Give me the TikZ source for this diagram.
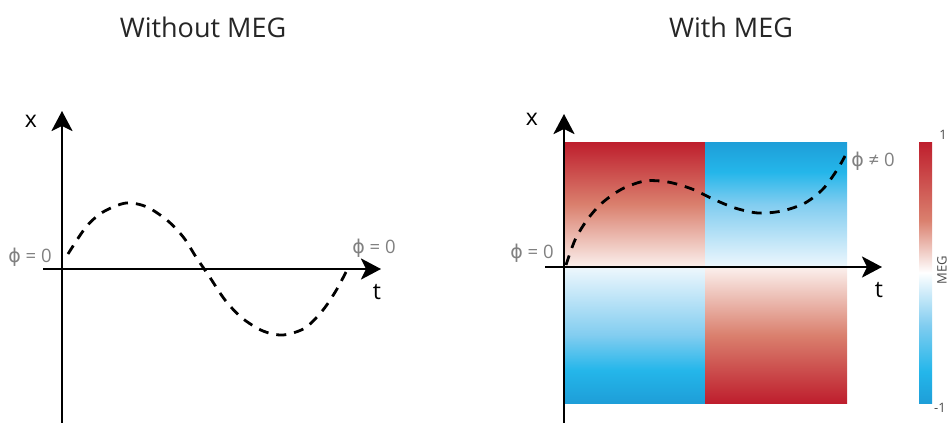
\documentclass[tikz,border=0pt]{standalone}
\usepackage{fontspec}
\setmainfont{Open Sans}
\newfontfamily\phifont{DejaVu Sans}
\usetikzlibrary{arrows.meta,positioning}
\definecolor{megred}{RGB}{190,30,45}
\definecolor{redmid}{RGB}{218,128,110}
\definecolor{redlow}{RGB}{251,240,237}
\definecolor{megblue}{RGB}{30,158,216}
\definecolor{megcyan}{RGB}{36,182,234}
\definecolor{bluemid}{RGB}{130,205,240}
\definecolor{bluelow}{RGB}{238,247,253}
\definecolor{phigray}{RGB}{128,128,128}
\newcommand{\phisym}{{\phifont\fontsize{19}{20}\selectfont ϕ}}
% vertical shadings: 25bp..75bp is the filled path, bottom to top
\pgfdeclareverticalshading{redup}{100bp}{color(0bp)=(redlow); color(25bp)=(redlow); color(50bp)=(redmid); color(75bp)=(megred); color(100bp)=(megred)}
\pgfdeclareverticalshading{reddown}{100bp}{color(0bp)=(megred); color(25bp)=(megred); color(50bp)=(redmid); color(75bp)=(redlow); color(100bp)=(redlow)}
\pgfdeclareverticalshading{blueup}{100bp}{color(0bp)=(bluelow); color(25bp)=(bluelow); color(50bp)=(bluemid); color(63bp)=(megcyan); color(75bp)=(megblue); color(100bp)=(megblue)}
\pgfdeclareverticalshading{bluedown}{100bp}{color(0bp)=(megblue); color(25bp)=(megblue); color(37bp)=(megcyan); color(50bp)=(bluemid); color(75bp)=(bluelow); color(100bp)=(bluelow)}
\pgfdeclareverticalshading{megbar}{100bp}{color(0bp)=(megblue); color(25bp)=(megblue); color(31bp)=(megcyan); color(40bp)=(bluemid); color(50bp)=(white); color(60bp)=(redmid); color(75bp)=(megred); color(100bp)=(megred)}
\tikzset{
  title/.style={font=\fontsize{27}{30}\selectfont,text=black!85,inner sep=0pt},
  axlbl/.style={font=\fontsize{23}{25}\selectfont,inner sep=0pt},
  philbl/.style={font=\fontsize{18.5}{20}\selectfont,text=phigray,inner sep=0pt},
  barlbl/.style={font=\fontsize{13}{15}\selectfont,text=black!70,inner sep=0pt},
  axis/.style={line width=2.8pt,-{Stealth[length=20pt,width=21pt,inset=5pt]}},
  wave/.style={line width=2.8pt,dash pattern=on 10pt off 8pt},
  block/.style={draw=none}
}
\begin{document}
\begin{tikzpicture}[x=1pt,y=-1pt]
  \useasboundingbox (0,0) rectangle (948,423);

  % left panel
  \node[title] (titleL) at (203,27) {Without MEG};
  \coordinate (xLs) at (43,269);
  \coordinate (xLe) at (381,269);
  \coordinate (yLs) at (62,423);
  \coordinate (yLe) at (62,111);
  \draw[wave] plot[smooth] coordinates {(68,254) (86,227) (103,212) (126,203) (147,207) (168,221)
    (184,238) (196,257) (209,276) (225,300) (242,318) (263,331) (283,335) (305,328) (323,310)
    (337,289) (348,268)};
  \draw[axis] (xLs) -- (xLe);
  \draw[axis] (yLs) -- (yLe);
  \node[axlbl] (xlabL) at (31,121) {x};
  \node[axlbl] (tlabL) at (377,292) {t};
  \node[philbl] (phiL)  at (30,257) {\phisym{} = 0};
  \node[philbl] (phiLe) at (374,248) {\phisym{} = 0};

  % right panel
  \node[title] (titleR) at (731,27) {With MEG};
  \path[block,shading=redup]    (564,142) rectangle (705,267);
  \path[block,shading=blueup]   (705,142) rectangle (847,267);
  \path[block,shading=bluedown] (564,267) rectangle (705,403);
  \path[block,shading=reddown]  (705,267) rectangle (847,403);
  \coordinate (xRs) at (545,267);
  \coordinate (xRe) at (882,267);
  \coordinate (yRs) at (564,423);
  \coordinate (yRe) at (564,114);
  \draw[wave] plot[smooth] coordinates {(566,265) (575,240) (587,220) (602,203) (622,189) (645,181)
    (668,182) (692,189) (713,199) (735,208) (758,213) (782,211) (805,203) (823,189) (837,170)
    (845,156)};
  \draw[axis] (xRs) -- (xRe);
  \draw[axis] (yRs) -- (yRe);
  \node[axlbl] (xlabR) at (532,119) {x};
  \node[axlbl] (tlabR) at (879,290) {t};
  \node[philbl] (phiR)  at (532,253) {\phisym{} = 0};
  \node[philbl] (phiRe) at (873,161) {\phisym{} ≠ 0};

  % colour bar
  \path[block,shading=megbar] (919,142) rectangle (932,403);
  \node[barlbl] (barhi) at (943,135) {1};
  \node[barlbl] (barlo) at (940,408) {-1};
  \node[barlbl,rotate=90] (barname) at (942,270) {MEG};
\end{tikzpicture}
\end{document}
